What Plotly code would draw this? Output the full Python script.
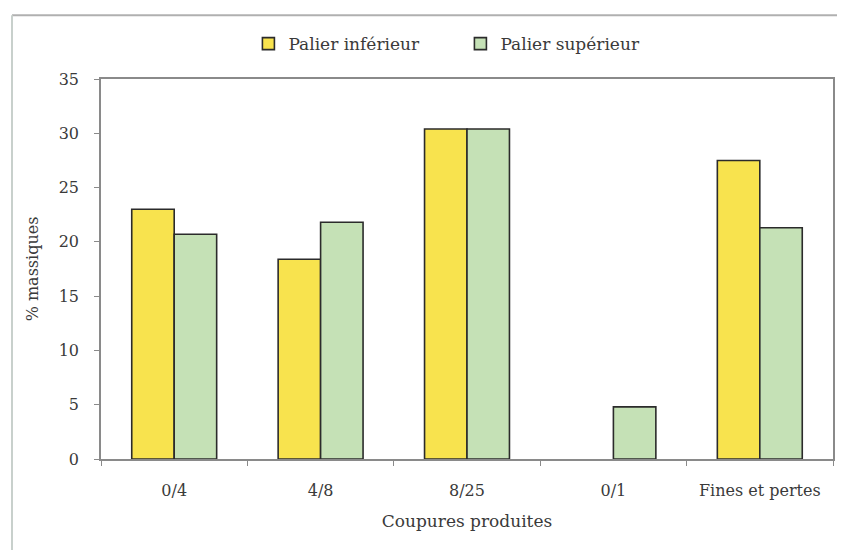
import plotly.graph_objects as go

categories = ["0/4", "4/8", "8/25", "0/1", "Fines et pertes"]
palier_inferieur = [23.0, 18.4, 30.4, 0, 27.5]
palier_superieur = [20.7, 21.8, 30.4, 4.8, 21.3]

FONT = "DejaVu Serif, Liberation Serif, serif"

fig = go.Figure()
fig.add_trace(go.Bar(
    x=categories, y=palier_inferieur, name="Palier inférieur",
    marker=dict(color="#F8E34E",
                line=dict(color="#2b2b2b", width=[0 if v == 0 else 1.6 for v in palier_inferieur])),
))
fig.add_trace(go.Bar(
    x=categories, y=palier_superieur, name="Palier supérieur",
    marker=dict(color="#C5E1B6",
                line=dict(color="#2b2b2b", width=[0 if v == 0 else 1.6 for v in palier_superieur])),
))

fig.update_layout(
    width=837, height=542,
    barmode="group", bargap=0.42, bargroupgap=0,
    paper_bgcolor="white", plot_bgcolor="white",
    margin=dict(l=93, r=12, t=71, b=91, autoexpand=False),
    font=dict(family=FONT, size=16, color="#3a3a3a"),
    showlegend=True,
    legend=dict(orientation="h", x=0.491, xanchor="center", y=1.092, yanchor="middle",
                font=dict(size=17, color="#3a3a3a"), bgcolor="rgba(0,0,0,0)",
                itemwidth=30, traceorder="normal", entrywidth=167, entrywidthmode="pixels"),
    xaxis=dict(
        title=dict(text="Coupures produites", font=dict(size=17), standoff=16),
        showline=True, linecolor="#8a8a8a", linewidth=1.5, mirror=True,
        ticks="outside", tickson="boundaries", ticklen=5, tickcolor="#8a8a8a",
        tickfont=dict(size=16), ticklabelstandoff=16,
    ),
    yaxis=dict(
        title=dict(text="% massiques", font=dict(size=16), standoff=16),
        range=[0, 35], dtick=5, showgrid=False, zeroline=False,
        showline=True, linecolor="#8a8a8a", linewidth=1.5, mirror=True,
        ticks="outside", ticklen=5, tickcolor="#8a8a8a",
        tickfont=dict(size=16), ticklabelstandoff=12,
    ),
    shapes=[
        dict(type="line", xref="paper", yref="paper", x0=-0.1216, x1=1.02, y0=1.168, y1=1.168,
             line=dict(color="#b0b0b0", width=2)),
        dict(type="line", xref="paper", yref="paper", x0=-0.1216, x1=-0.1216, y0=1.168, y1=-0.25,
             line=dict(color="#c8d0cc", width=2)),
    ],
)

fig.write_html("out.html")
